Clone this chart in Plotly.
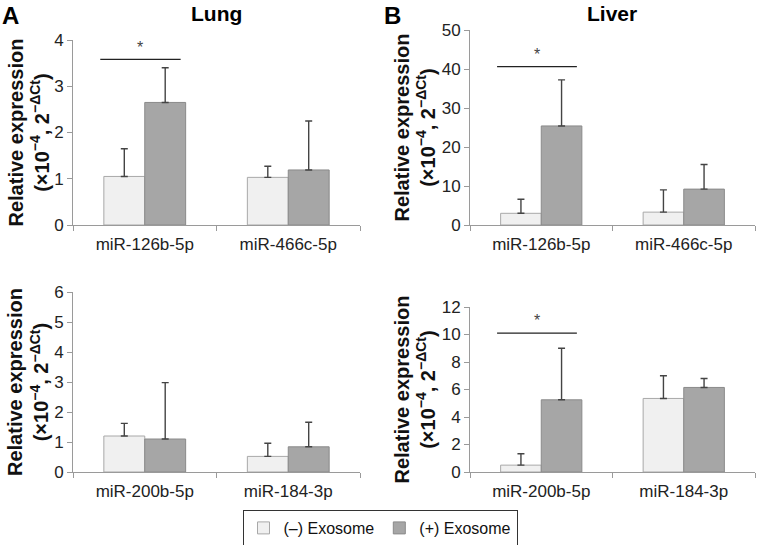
import plotly.graph_objects as go

# Data
top_cats = ["miR-126b-5p", "miR-466c-5p"]
bottom_cats = ["miR-200b-5p", "miR-184-3p"]

lung_top_neg = [1.05, 1.03]
lung_top_neg_sd = [0.60, 0.24]
lung_top_pos = [2.65, 1.19]
lung_top_pos_sd = [0.75, 1.06]

liver_top_neg = [3.0, 3.3]
liver_top_neg_sd = [3.6, 5.7]
liver_top_pos = [25.4, 9.2]
liver_top_pos_sd = [11.8, 6.3]

lung_bot_neg = [1.2, 0.52]
lung_bot_neg_sd = [0.42, 0.44]
lung_bot_pos = [1.1, 0.84]
lung_bot_pos_sd = [1.88, 0.82]

liver_bot_neg = [0.5, 5.35]
liver_bot_neg_sd = [0.83, 1.65]
liver_bot_pos = [5.25, 6.15]
liver_bot_pos_sd = [3.75, 0.65]

# significance brackets: (panel index, y level)
sig_marks = [(1, 3.58), (2, 40.6), (4, 10.1)]

FONT = "Arial, Liberation Sans, sans-serif"
LIGHT = "#f0f0f0"
DARK = "#a6a6a6"

W, H = 757, 545
panels = [
    # cats, neg, neg_sd, pos, pos_sd, x px, y px, range, dtick, title x px
    (top_cats, lung_top_neg, lung_top_neg_sd, lung_top_pos, lung_top_pos_sd, (73, 360), (40, 225), 4, 1, 28),
    (top_cats, liver_top_neg, liver_top_neg_sd, liver_top_pos, liver_top_pos_sd, (470, 755), (30, 225), 50, 10, 414),
    (bottom_cats, lung_bot_neg, lung_bot_neg_sd, lung_bot_pos, lung_bot_pos_sd, (73, 360), (292, 472), 6, 1, 28),
    (bottom_cats, liver_bot_neg, liver_bot_neg_sd, liver_bot_pos, liver_bot_pos_sd, (470, 755), (307, 472), 12, 2, 414),
]

fig = go.Figure()
ytitle = "<b>Relative expression<br>(×10<sup>−4</sup>, 2<sup>−ΔCt</sup>)</b>"

for i, (cats, neg, neg_sd, pos, pos_sd, xpx, ypx, ymax, dt, tx) in enumerate(panels, start=1):
    xa = "x" if i == 1 else f"x{i}"
    ya = "y" if i == 1 else f"y{i}"
    for vals, sd, col, line_col, name in [
        (neg, neg_sd, LIGHT, "#a8a8a8", "(–) Exosome"),
        (pos, pos_sd, DARK, "#8a8a8a", "(+) Exosome"),
    ]:
        fig.add_trace(go.Bar(
            x=cats, y=vals, name=name, xaxis=xa, yaxis=ya,
            marker=dict(color=col, line=dict(color=line_col, width=1)),
            error_y=dict(type="data", array=sd, arrayminus=[0] * len(sd), symmetric=False,
                         color="#444444", thickness=1.4, width=3.5),
            showlegend=(i == 1),
        ))
    suffix = "" if i == 1 else str(i)
    fig.layout["xaxis" + suffix] = dict(
        domain=[xpx[0] / W, xpx[1] / W], anchor=ya, automargin=False,
        showline=True, linecolor="#9a9a9a", linewidth=1,
        ticks="outside", tickson="boundaries", ticklen=5, tickcolor="#9a9a9a",
        ticklabelstandoff=4,
        tickfont=dict(family=FONT, size=17, color="#222222"), showgrid=False,
    )
    fig.layout["yaxis" + suffix] = dict(
        domain=[1 - ypx[1] / H, 1 - ypx[0] / H], anchor=xa, automargin=False,
        range=[0, ymax], dtick=dt, showline=True, linecolor="#9a9a9a", linewidth=1,
        ticks="outside", ticklen=5, tickcolor="#9a9a9a", showgrid=False, zeroline=False,
        tickfont=dict(family=FONT, size=17, color="#222222"),
    )
    # y axis title, drawn as a rotated annotation so it sits like the original
    fig.add_annotation(xref="paper", yref="paper", x=tx / W, y=1 - (ypx[0] + ypx[1]) / 2 / H,
                       text=ytitle, textangle=-90, showarrow=False,
                       xanchor="center", yanchor="middle",
                       font=dict(family=FONT, size=20, color="#111111"))

for idx, ylev in sig_marks:
    xa = "x" if idx == 1 else f"x{idx}"
    ya = "y" if idx == 1 else f"y{idx}"
    ymax = panels[idx - 1][7]
    fig.add_shape(type="line", xref=xa, yref=ya, x0=-0.31, x1=0.25, y0=ylev, y1=ylev,
                  line=dict(color="#222222", width=1.2))
    fig.add_annotation(xref=xa, yref=ya, x=-0.03, y=ylev + ymax * 0.01, text="*",
                       showarrow=False, yanchor="bottom",
                       font=dict(family=FONT, size=16, color="#444444"))

for txt, x, size in [("<b>A</b>", 10, 24), ("<b>Lung</b>", 217, 21),
                     ("<b>B</b>", 392, 24), ("<b>Liver</b>", 612, 21)]:
    fig.add_annotation(xref="paper", yref="paper", x=x / W, y=1, text=txt,
                       showarrow=False, xanchor="center", yanchor="top",
                       font=dict(family=FONT, size=size, color="#000000"))

fig.update_layout(
    width=W, height=H, margin=dict(l=0, r=0, t=0, b=0, autoexpand=False),
    plot_bgcolor="white", paper_bgcolor="white",
    barmode="group", bargap=0.43, bargroupgap=0,
    legend=dict(orientation="h", x=380 / W, y=1 - 528 / H, xanchor="center", yanchor="middle",
                bordercolor="#333333", borderwidth=1,
                font=dict(family=FONT, size=16, color="#111111"),
                itemwidth=30, tracegroupgap=0),
)

# the page's default body margin would push the figure 8px off the window
fig.write_html("out.html", config={"displayModeBar": False},
               post_script="document.body.style.margin='0';")
